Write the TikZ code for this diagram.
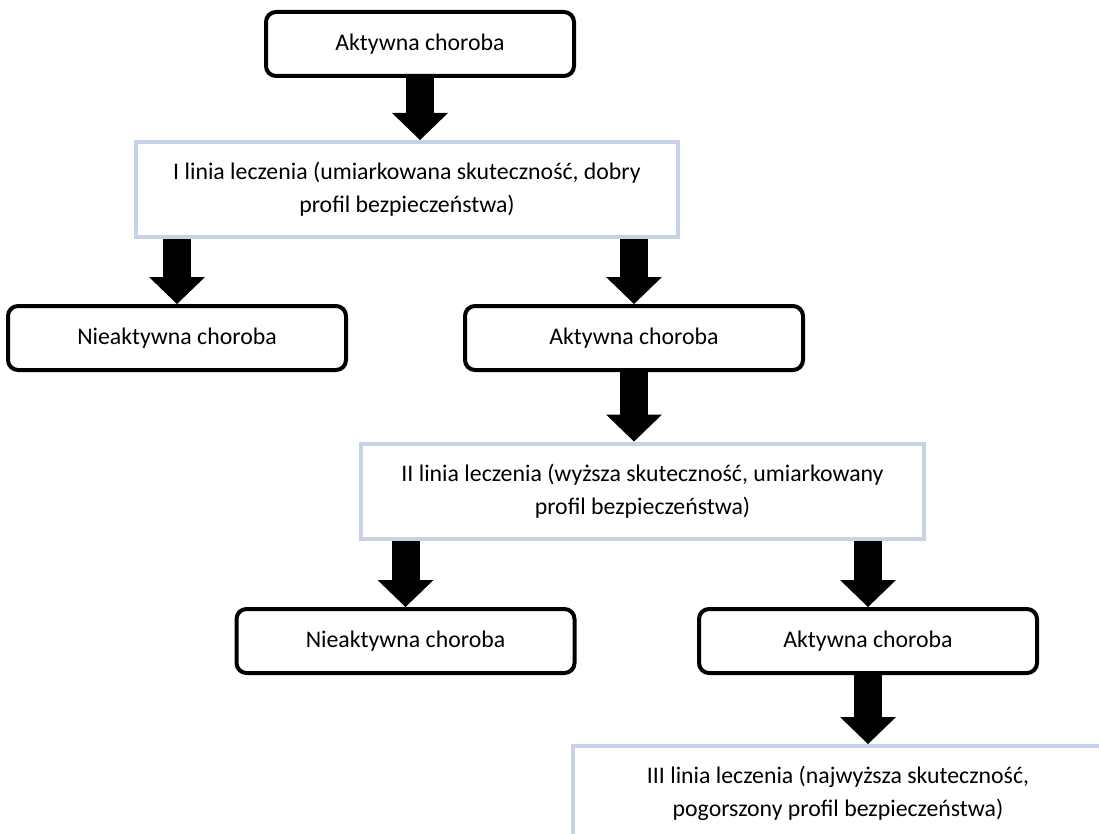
\documentclass[tikz,border=0pt]{standalone}
\usepackage{fontspec}
\setmainfont{Carlito}
\usetikzlibrary{arrows.meta}
\definecolor{boxline}{RGB}{200,210,230}

\begin{document}
\begin{tikzpicture}[x=1pt, y=-1pt, font=\fontsize{23.8}{33}\selectfont,
	state/.style = {draw, line width=4pt, rounded corners=10pt, minimum width=338pt, minimum height=64pt, inner sep=0pt},
	therapy/.style = {draw=boxline, line width=4pt, minimum height=95pt, align=center, inner sep=0pt},
	flow/.style = {line width=28pt, -{Triangle[width=56pt, length=27pt, line width=0pt]}}]
				\path[use as bounding box, clip] (0,0) rectangle (1099,834);
				
				\node[state, minimum width=308pt] (start) at (420,44) {Aktywna choroba};
				\node[therapy, minimum width=542pt] (line1) at (407,189.5) {I linia leczenia (umiarkowana skuteczność, dobry\\profil bezpieczeństwa)};
				\node[state] (off1) at (177,338) {Nieaktywna choroba};
				\node[state] (on1) at (634,338) {Aktywna choroba};
				\node[therapy, minimum width=563pt] (line2) at (642.5,491) {II linia leczenia (wyższa skuteczność, umiarkowany\\profil bezpieczeństwa)};
				\node[state] (off2) at (405.5,641) {Nieaktywna choroba};
				\node[state] (on2) at (868,641) {Aktywna choroba};
				\node[therapy, minimum width=530pt] (line3) at (838,793.5) {III linia leczenia (najwyższa skuteczność,\\pogorszony profil bezpieczeństwa)};
				
				\draw[flow] (start.south) -- (start.south |- line1.north);
				\draw[flow] (line1.south -| off1.north) -- (off1.north);
				\draw[flow] (line1.south -| on1.north) -- (on1.north);
				\draw[flow] (on1.south) -- (on1.south |- line2.north);
				\draw[flow] (line2.south -| off2.north) -- (off2.north);
				\draw[flow] (line2.south -| on2.north) -- (on2.north);
				\draw[flow] (on2.south) -- (on2.south |- line3.north);
				
\end{tikzpicture}
\end{document}
